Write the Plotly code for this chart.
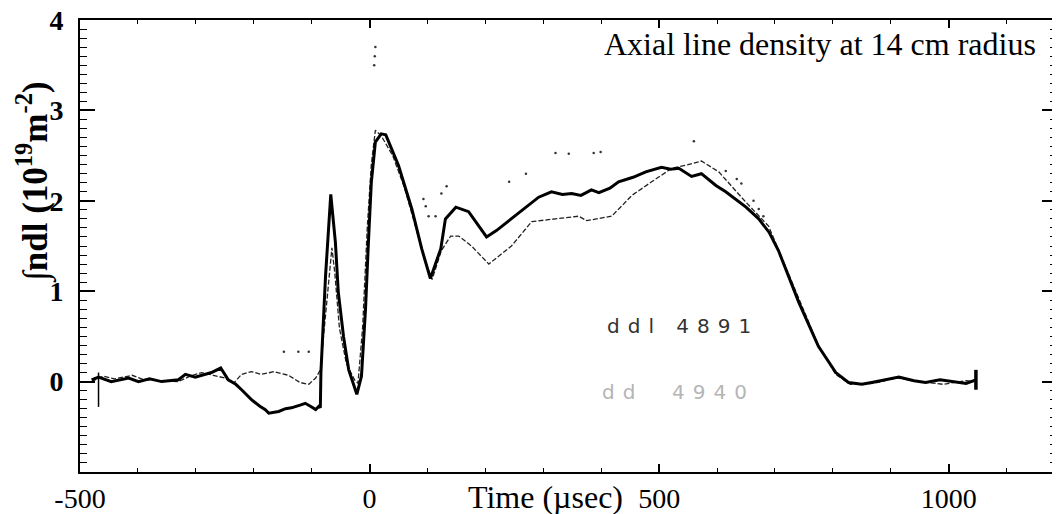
import plotly.graph_objects as go

# ---- data ----
solid_t = [-480, -468, -446, -416, -399, -380, -359, -330, -318, -301, -273, -257, -244, -231, -221,
           -204, -190, -180, -174, -157, -145, -135, -120, -111, -100, -93, -87, -85, -84, -76, -67,
           -59, -54, -45, -36, -22, -14, -7, -2, 3, 10, 20, 28, 50, 73, 90, 105, 123, 131, 149, 171,
           188, 202, 219, 245, 270, 292, 314, 333, 349, 365, 383, 396, 415, 430, 455, 477, 504, 520,
           534, 556, 573, 598, 615, 632, 650, 672, 690, 706, 741, 775, 805, 827, 850, 867, 890, 914,
           940, 960, 985, 1005, 1030, 1047]
solid_v = [0.02, 0.05, 0.0, 0.04, 0.0, 0.03, 0.0, 0.02, 0.08, 0.05, 0.10, 0.15, 0.02, -0.03, -0.09,
           -0.20, -0.27, -0.31, -0.35, -0.33, -0.30, -0.29, -0.26, -0.24, -0.28, -0.31, -0.27, -0.29,
           0.10, 1.17, 2.07, 1.54, 0.99, 0.50, 0.13, -0.14, 0.06, 0.80, 1.54, 2.20, 2.65, 2.74, 2.73,
           2.39, 1.91, 1.47, 1.14, 1.47, 1.80, 1.93, 1.88, 1.72, 1.60, 1.67, 1.80, 1.92, 2.04, 2.10,
           2.07, 2.08, 2.06, 2.12, 2.09, 2.14, 2.21, 2.26, 2.32, 2.37, 2.35, 2.36, 2.27, 2.30, 2.17,
           2.10, 2.02, 1.93, 1.80, 1.65, 1.45, 0.88, 0.39, 0.10, -0.01, -0.03, -0.01, 0.02, 0.05,
           0.01, -0.01, 0.02, 0.0, -0.02, 0.02]

dash_t = [-480, -460, -440, -410, -390, -360, -330, -310, -290, -270, -250, -235, -221, -204, -187,
          -165, -140, -120, -105, -93, -85, -78, -70, -65, -60, -52, -40, -26, -20, -12, -4, 3, 10,
          20, 40, 60, 80, 95, 108, 124, 140, 154, 176, 206, 245, 280, 321, 361, 375, 418, 435, 453,
          487, 522, 550, 573, 603, 649, 689, 710, 745, 775, 805, 830, 870, 910, 950, 990, 1030, 1045]
dash_v = [0.0, 0.06, 0.03, 0.07, 0.02, 0.01, 0.0, 0.06, 0.10, 0.07, 0.04, -0.02, 0.08, 0.11, 0.08,
          0.11, 0.07, -0.01, -0.03, 0.04, 0.13, 0.60, 1.20, 1.48, 1.20, 0.59, 0.20, 0.02, -0.02,
          0.60, 1.70, 2.40, 2.78, 2.72, 2.50, 2.15, 1.70, 1.35, 1.13, 1.45, 1.61, 1.61, 1.50, 1.30,
          1.50, 1.77, 1.80, 1.83, 1.78, 1.83, 1.94, 2.06, 2.21, 2.36, 2.40, 2.44, 2.32, 1.99, 1.72,
          1.40, 0.85, 0.40, 0.08, -0.03, -0.02, 0.04, 0.0, -0.03, 0.01, 0.0]

stray_t = [-148, -123, -105, 93, 97, 102, 114, 124, 133, 241, 270, 321, 344, 387, 399, 560, 615,
           634, 642, 663, 672, 680, 10, 9, 8]
stray_v = [0.33, 0.33, 0.33, 2.02, 1.94, 1.83, 1.83, 2.08, 2.16, 2.21, 2.30, 2.53, 2.52, 2.53, 2.54,
           2.66, 2.33, 2.24, 2.19, 2.00, 1.91, 1.83, 3.70, 3.60, 3.50]

glitch_t = [-468, -468]
glitch_v = [0.10, -0.28]
end_t = [1047, 1047]
end_v = [-0.09, 0.13]

x_ticks = [-500, 0, 500, 1000]
y_ticks = [0, 1, 2, 3, 4]

fig = go.Figure()
fig.add_trace(go.Scatter(x=dash_t, y=dash_v, mode="lines",
                         line=dict(color="#222", width=1.3, dash="5px,2px")))
fig.add_trace(go.Scatter(x=solid_t, y=solid_v, mode="lines",
                         line=dict(color="black", width=3)))
fig.add_trace(go.Scatter(x=stray_t, y=stray_v, mode="markers",
                         marker=dict(color="#333", size=2.5)))
fig.add_trace(go.Scatter(x=glitch_t, y=glitch_v, mode="lines",
                         line=dict(color="black", width=1.5)))
fig.add_trace(go.Scatter(x=end_t, y=end_v, mode="lines",
                         line=dict(color="black", width=3.5)))

serif = "Liberation Serif"
fig.update_layout(
    width=1052, height=506,
    margin=dict(l=72, r=3, t=12, b=42),
    plot_bgcolor="white", paper_bgcolor="white",
    showlegend=False,
    xaxis=dict(range=[-500, 1187], tickvals=x_ticks, ticktext=[str(v) for v in x_ticks],
               automargin=False, ticklabeloverflow="allow",
               ticks="inside", ticklen=8, tickwidth=1.5, tickcolor="black",
               showline=True, linecolor="black", linewidth=2, mirror="ticks",
               showgrid=False, zeroline=False, ticklabelstandoff=0,
               tickfont=dict(family=serif, size=28, color="black"),
               minor=dict(dtick=100, tick0=0, ticks="inside", ticklen=4, tickcolor="black", tickwidth=1)),
    yaxis=dict(range=[-1, 4], tickvals=y_ticks, ticktext=[str(v) for v in y_ticks],
               automargin=False, ticklabeloverflow="allow",
               ticks="inside", ticklen=15, tickwidth=1.5, tickcolor="black",
               showline=True, linecolor="black", linewidth=2, mirror="ticks",
               showgrid=False, zeroline=False, ticklabelstandoff=9,
               tickfont=dict(family=serif, size=28, color="black", weight="bold"),
               minor=dict(dtick=0.1, tick0=0, ticks="inside", ticklen=7, tickcolor="black", tickwidth=1)),
)

fig.add_annotation(x=1155, y=3.74, xref="x", yref="y", xanchor="right", yanchor="middle",
                   text="Axial line density at 14 cm radius", showarrow=False,
                   font=dict(family=serif, size=32, color="black"))
fig.add_annotation(x=303, y=-0.055, xref="x", yref="paper", xanchor="center", yanchor="middle",
                   text="Time (µsec)", showarrow=False,
                   font=dict(family=serif, size=32, color="black"))
fig.add_annotation(x=-0.047, y=2.2, xref="paper", yref="y", xanchor="center", yanchor="middle",
                   text="∫ndl (10<sup>19</sup>m<sup>-2</sup>)", textangle=-90, showarrow=False,
                   font=dict(family=serif, size=35, color="black", weight="bold"))
fig.add_annotation(x=541, y=0.61, xref="x", yref="y", xanchor="center", yanchor="middle",
                   text="<span style='letter-spacing:8px'>ddl 4891</span>", showarrow=False,
                   font=dict(family="DejaVu Sans", size=20, color="#333"))
fig.add_annotation(x=534, y=-0.12, xref="x", yref="y", xanchor="center", yanchor="middle",
                   text="<span style='letter-spacing:8px'>dd  4940</span>", showarrow=False,
                   font=dict(family="DejaVu Sans", size=20, color="#b5b5b5"))

fig.write_html("out.html")
